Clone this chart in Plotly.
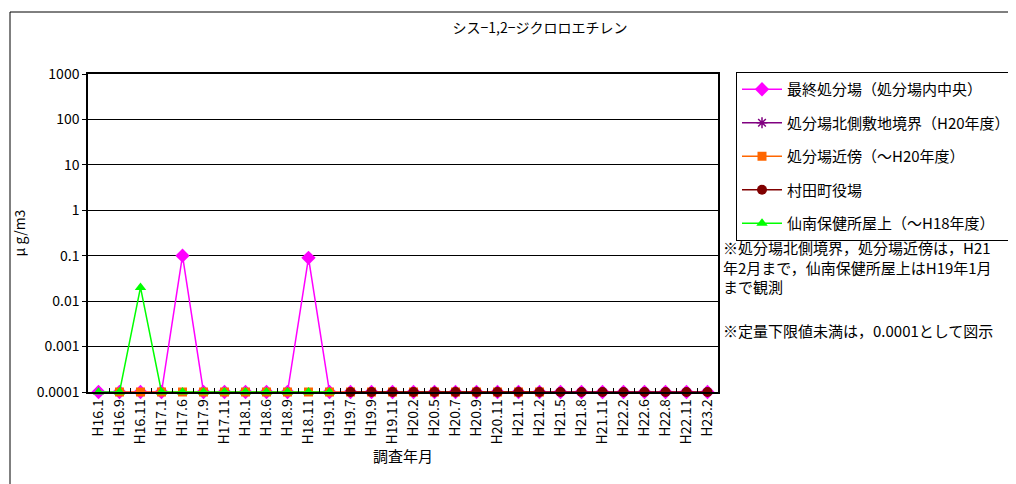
import plotly.graph_objects as go

categories = ["H16.1", "H16.9", "H16.11", "H17.1", "H17.6", "H17.9", "H17.11", "H18.1", "H18.6", "H18.9",
              "H18.11", "H19.1", "H19.7", "H19.9", "H19.11", "H20.2", "H20.5", "H20.7", "H20.9", "H20.11",
              "H21.1", "H21.2", "H21.5", "H21.8", "H21.11", "H22.2", "H22.6", "H22.8", "H22.11", "H23.2"]

saishu = [0.0001, 0.0001, 0.0001, 0.0001, 0.1, 0.0001, 0.0001, 0.0001, 0.0001, 0.0001,
          0.09, 0.0001, 0.0001, 0.0001, 0.0001, 0.0001, 0.0001, 0.0001, 0.0001, 0.0001,
          0.0001, 0.0001, 0.0001, 0.0001, 0.0001, 0.0001, 0.0001, 0.0001, 0.0001, 0.0001]

kita_cats = ["H20.5", "H20.7", "H20.9", "H20.11", "H21.1", "H21.2"]
kita_vals = [0.0001, 0.0001, 0.0001, 0.0001, 0.0001, 0.0001]

kinbo_cats = ["H16.9", "H16.11", "H17.1", "H17.6", "H17.9", "H17.11", "H18.1", "H18.6", "H18.9", "H18.11",
              "H19.1", "H19.7", "H19.9", "H19.11", "H20.2", "H20.5", "H20.7", "H20.9", "H20.11", "H21.1", "H21.2"]
kinbo_vals = [0.0001] * 21

murata_cats = ["H19.7", "H19.9", "H19.11", "H20.2", "H20.5", "H20.7", "H20.9", "H20.11", "H21.1", "H21.2",
               "H21.5", "H21.8", "H21.11", "H22.2", "H22.6", "H22.8", "H22.11", "H23.2"]
murata_vals = [0.0001] * 18

sennan_cats = ["H16.1", "H16.9", "H16.11", "H17.1", "H17.6", "H17.9", "H17.11", "H18.1", "H18.6", "H18.9",
               "H18.11", "H19.1"]
sennan_vals = [0.0001, 0.0001, 0.02, 0.0001, 0.0001, 0.0001, 0.0001, 0.0001, 0.0001, 0.0001, 0.0001, 0.0001]

ytick_vals = [1000, 100, 10, 1, 0.1, 0.01, 0.001, 0.0001]
ytick_text = ["1000", "100", "10", "1", "0.1", "0.01", "0.001", "0.0001"]

note_observe = "※処分場北側境界，処分場近傍は，H21<br>年2月まで，仙南保健所屋上はH19年1月<br>まで観測"
note_limit = "※定量下限値未満は，0.0001として図示"

FONT = "Noto Sans CJK JP, Noto Sans, sans-serif"

fig = go.Figure()
fig.add_trace(go.Scatter(x=categories, y=saishu, name="最終処分場（処分場内中央）", mode="lines+markers",
                         line=dict(color="#FF00FF", width=1.5),
                         marker=dict(symbol="diamond", size=11, color="#FF00FF"),
                         legendgroup="a", cliponaxis=False))
fig.add_trace(go.Scatter(x=kita_cats, y=kita_vals, name="処分場北側敷地境界（H20年度）", mode="lines+markers",
                         line=dict(color="#800080", width=1.5),
                         marker=dict(symbol="asterisk-open", size=9, color="#800080", line=dict(width=1.5, color="#800080")),
                         legendgroup="b", cliponaxis=False))
fig.add_trace(go.Scatter(x=kinbo_cats, y=kinbo_vals, name="処分場近傍（～H20年度）", mode="lines+markers",
                         line=dict(color="#FF6600", width=1.5),
                         marker=dict(symbol="square", size=9, color="#FF6600"),
                         legendgroup="c", cliponaxis=False))
fig.add_trace(go.Scatter(x=murata_cats, y=murata_vals, name="村田町役場", mode="lines+markers",
                         line=dict(color="#800000", width=1.5),
                         marker=dict(symbol="circle", size=10, color="#800000"),
                         legendgroup="d", cliponaxis=False))
fig.add_trace(go.Scatter(x=sennan_cats, y=sennan_vals, name="仙南保健所屋上（～H18年度）", mode="lines+markers",
                         line=dict(color="#00FF00", width=1.5),
                         marker=dict(symbol="triangle-up", size=10, color="#00FF00"),
                         legendgroup="e", cliponaxis=False))

W, H = 1016, 484
OFF = 8  # page body margin offset
# target plot area in window pixels: x 88..718, y 74..392
L = 88 - OFF
T = 74 - OFF
R = W - (718 - OFF)
B = H - (392 - OFF)
pw, ph = W - L - R, H - T - B

def px_x(x):
    return (x - OFF - L) / pw

def px_y(y):
    return (H - B - (y - OFF)) / ph

fig.update_layout(
    width=W, height=H,
    margin=dict(l=L, r=R, t=T, b=B, autoexpand=False),
    paper_bgcolor="white", plot_bgcolor="white",
    font=dict(family=FONT, size=13, color="black"),
    title=dict(text="シス−1,2−ジクロロエチレン", x=px_x(540), xref="paper", xanchor="center",
               y=1 - (28 - OFF) / H, yanchor="middle",
               font=dict(size=14, family=FONT)),
    showlegend=True,
    legend=dict(x=px_x(736), y=px_y(72), xanchor="left", yanchor="top",
                bordercolor="black", borderwidth=1, bgcolor="white",
                font=dict(size=15, family=FONT), tracegroupgap=11,
                itemwidth=40),
    xaxis=dict(type="category", categoryorder="array", categoryarray=categories,
               range=[-0.5, 29.5], tickangle=-90, showgrid=False, automargin=False,
               showline=True, linecolor="black", linewidth=1.5, mirror=True,
               ticks="inside", ticklen=4, tickson="boundaries", tickcolor="black",
               tickfont=dict(size=14, family=FONT),
               title=dict(text="調査年月", font=dict(size=15, family=FONT), standoff=0)),
    yaxis=dict(type="log", range=[-4, 3], tickvals=ytick_vals, ticktext=ytick_text, automargin=False,
               showgrid=True, gridcolor="black", gridwidth=1,
               showline=True, linecolor="black", linewidth=1.5, mirror=True,
               ticks="outside", ticklen=4, tickcolor="black", zeroline=False,
               tickfont=dict(size=14, family=FONT),
               title=dict(text="μ g/m3", font=dict(size=14, family=FONT), standoff=8)),
    shapes=[dict(type="rect", xref="paper", yref="paper",
                 x0=px_x(10), x1=px_x(1030), y0=px_y(500), y1=px_y(12),
                 line=dict(color="black", width=1), fillcolor="rgba(0,0,0,0)", layer="below")],
)

fig.add_annotation(text=note_observe, xref="paper", yref="paper", x=px_x(721), y=px_y(267),
                   xanchor="left", yanchor="middle", align="left", showarrow=False,
                   font=dict(size=15, family=FONT))
fig.add_annotation(text=note_limit, xref="paper", yref="paper", x=px_x(721), y=px_y(330),
                   xanchor="left", yanchor="middle", align="left", showarrow=False,
                   font=dict(size=15, family=FONT))

fig.write_html("out.html")
